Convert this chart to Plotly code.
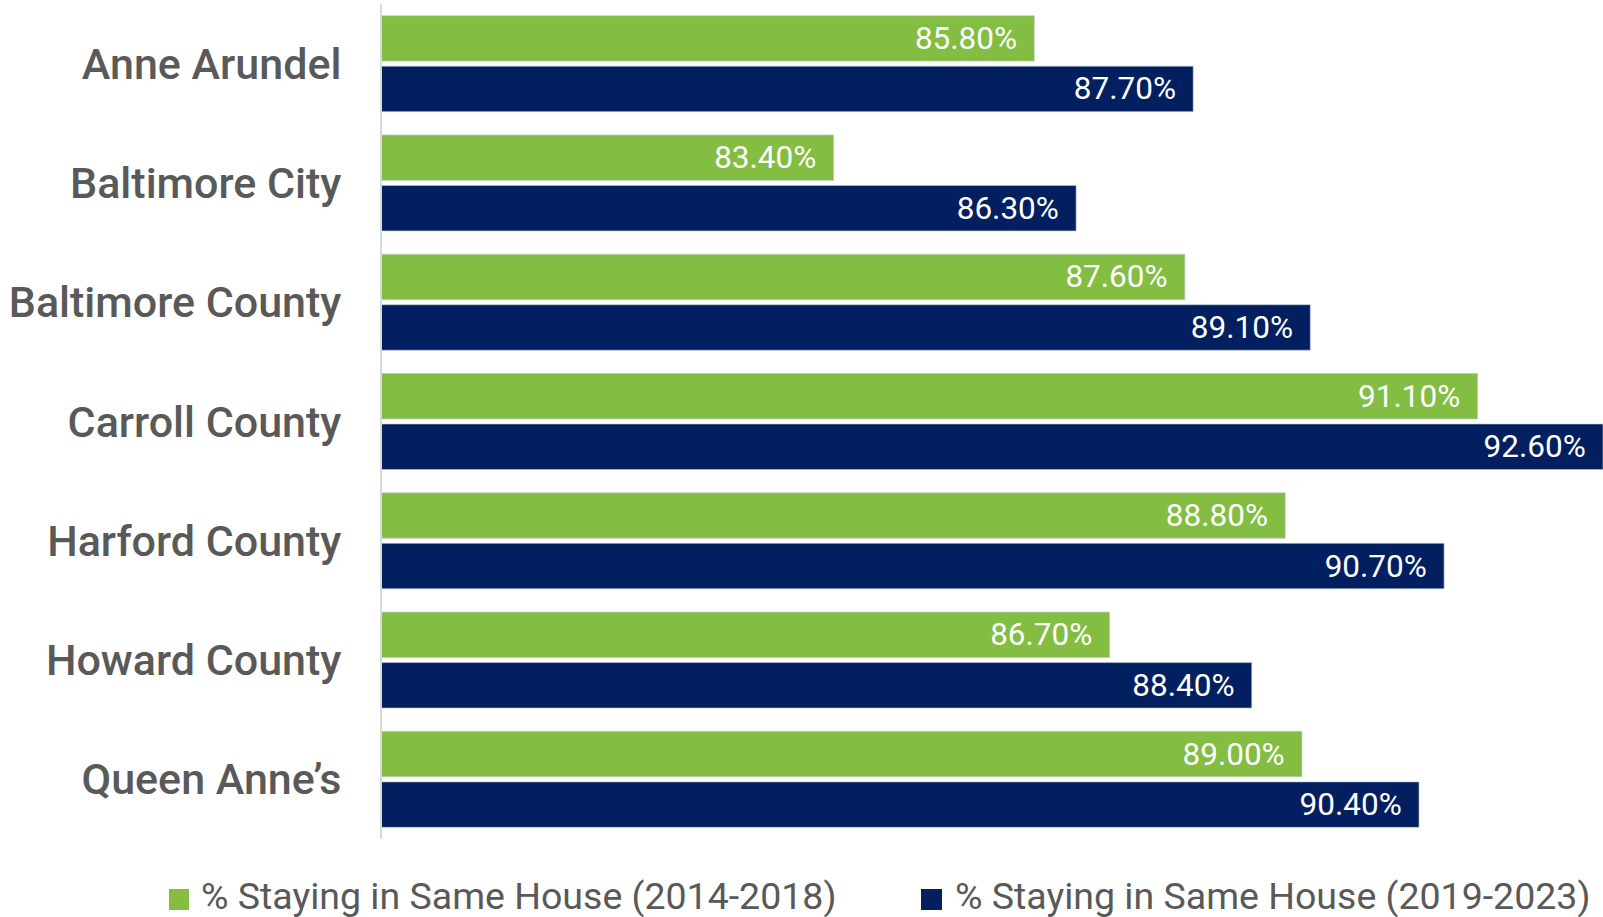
import plotly.graph_objects as go

counties = ["Anne Arundel", "Baltimore City", "Baltimore County", "Carroll County",
            "Harford County", "Howard County", "Queen Anne\u2019s"]
pct_2014_2018 = [85.8, 83.4, 87.6, 91.1, 88.8, 86.7, 89.0]
pct_2019_2023 = [87.7, 86.3, 89.1, 92.6, 90.7, 88.4, 90.4]
series_names = ["% Staying in Same House (2014-2018)", "% Staying in Same House (2019-2023)"]
colors = ["#83BD42", "#02205F"]

W, H = 1603, 917
ML, MR, MT, MB = 382, 0, 4, 78
PW, PH = W - ML - MR, H - MT - MB


def px_x(x):
    return (x - ML) / PW


def px_y(y):
    return (H - MB - y) / PH


fig = go.Figure()
for vals, name, col in zip([pct_2014_2018, pct_2019_2023], series_names, colors):
    fig.add_trace(go.Bar(
        y=counties, x=vals, orientation="h", name=name,
        marker=dict(color=col, line=dict(color="rgba(190,200,215,0.8)", width=0.8)),
        texttemplate="%{x:.2f}%\u00a0\u2009", textposition="inside",
        insidetextanchor="end",
        textfont=dict(family="Roboto", size=31.5, color="white", weight=400),
        showlegend=False, cliponaxis=False,
    ))

# legend drawn as squares + text
legend_items = [(169, 189, 199), (921, 942, 953)]
shapes, annotations = [], []
for (sx0, sx1, tx), name, col in zip(legend_items, series_names, colors):
    shapes.append(dict(type="rect", xref="paper", yref="paper",
                       x0=px_x(sx0), x1=px_x(sx1), y0=px_y(910), y1=px_y(889),
                       fillcolor=col, line=dict(width=0)))
    annotations.append(dict(text=name, xref="paper", yref="paper", x=px_x(tx), y=px_y(896),
                            xanchor="left", yanchor="middle", showarrow=False,
                            font=dict(family="Roboto", size=37.5, color="#595959")))

fig.update_layout(
    width=W, height=H,
    margin=dict(l=ML, r=MR, t=MT, b=MB),
    paper_bgcolor="white", plot_bgcolor="white",
    barmode="group", bargap=0.153, bargroupgap=0.1,
    font=dict(family="Roboto", color="#595959"),
    showlegend=False,
    shapes=shapes, annotations=annotations,
)
fig.update_xaxes(range=[78, 92.6], showgrid=False, showticklabels=False, zeroline=False,
                 showline=False, fixedrange=True)
fig.update_yaxes(autorange="reversed", showgrid=False, showline=True, linecolor="#D9D9D9",
                 linewidth=2, ticks="outside", ticklen=30, tickcolor="rgba(0,0,0,0)",
                 tickfont=dict(family="Roboto", size=43, color="#595959", weight=500))

fig.write_html("out.html", post_script="document.body.style.margin='0';",
               config={"displayModeBar": False})
